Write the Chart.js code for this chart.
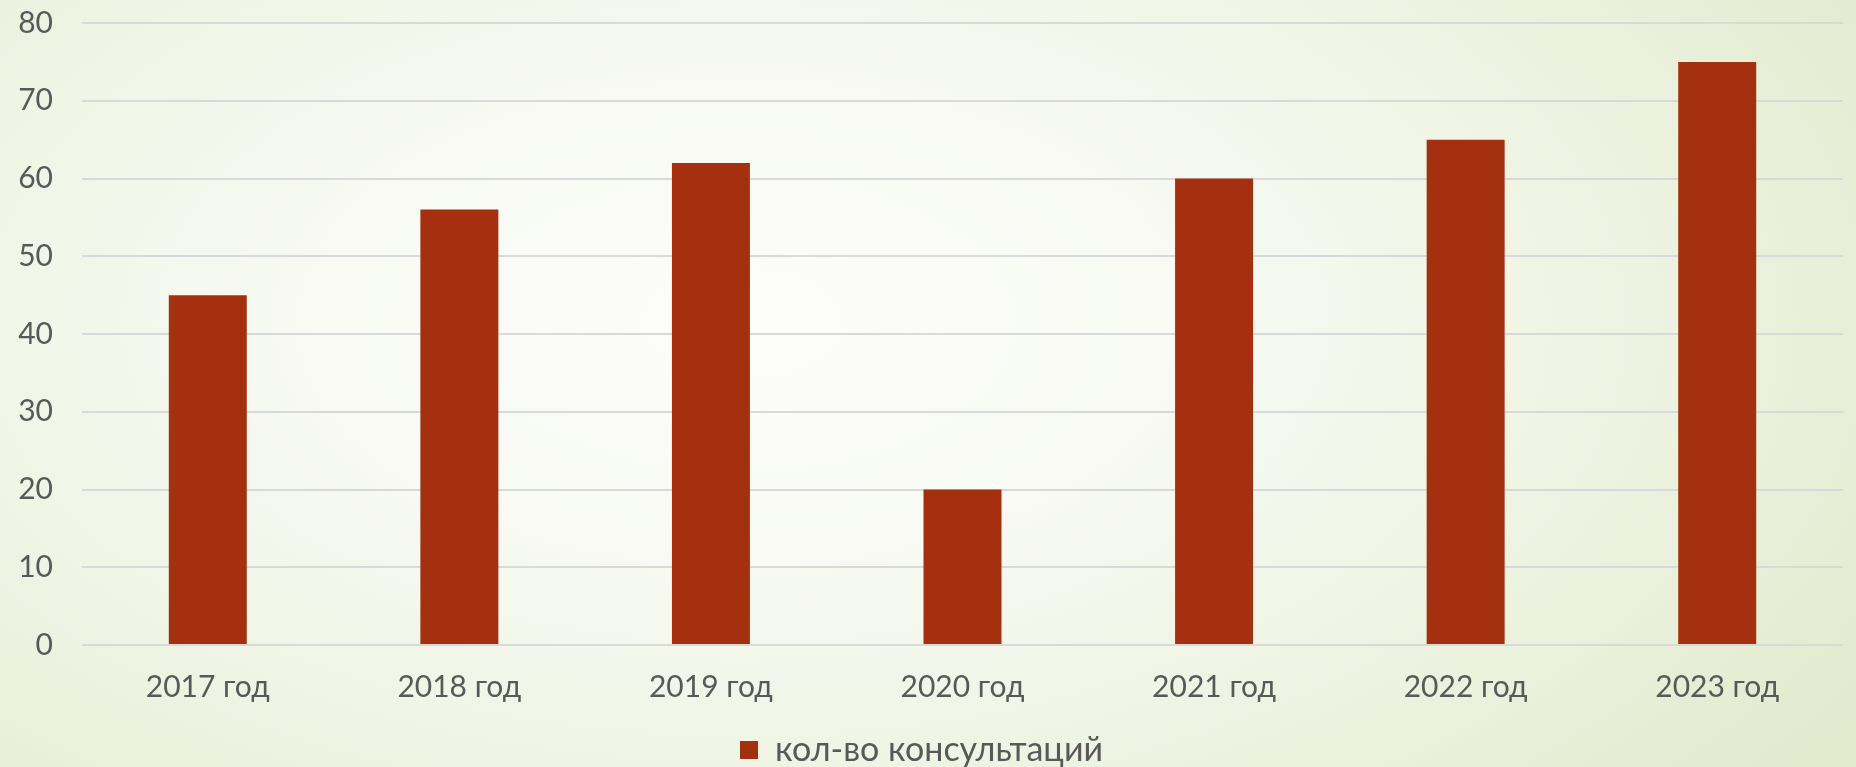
<!DOCTYPE html>
<html>
<head>
<meta charset="utf-8">
<script src="https://cdn.jsdelivr.net/npm/chart.js@4"></script>
<style>
  html, body { margin: 0; padding: 0; width: 1856px; height: 767px; overflow: hidden; }
  body {
    background:
      radial-gradient(ellipse 72% 95% at 40% 42%, #fdfdfb 0%, #f8faf3 32%, #edf3e1 68%, #e1eacd 100%);
  }
  #wrap { position: absolute; left: 0; top: 0; width: 1856px; height: 767px; }
</style>
</head>
<body>
<div id="wrap"><canvas id="c" width="1856" height="767"></canvas></div>
<script>
const categories = ["2017 год", "2018 год", "2019 год", "2020 год", "2021 год", "2022 год", "2023 год"];
const seriesName = "кол-во консультаций";
const consultations = [45, 56, 62, 20, 60, 65, 75];
const yTicks = [0, 10, 20, 30, 40, 50, 60, 70, 80];

const FONT = "Lato, 'Open Sans', sans-serif";

new Chart(document.getElementById('c'), {
  type: 'bar',
  data: {
    labels: categories,
    datasets: [{
      label: seriesName,
      data: consultations,
      backgroundColor: '#A5300F',
      borderWidth: 0,
      barPercentage: 0.31,
      categoryPercentage: 1.0
    }]
  },
  options: {
    responsive: false,
    devicePixelRatio: 1,
    animation: false,
    layout: { padding: { top: 23, right: 13, left: 0, bottom: -10 } },
    plugins: {
      tooltip: { enabled: false },
      legend: {
        display: true,
        position: 'bottom',
        labels: {
          boxWidth: 18,
          boxHeight: 18,
          padding: 3,
          color: '#595959',
          font: { family: FONT, size: 34 }
        }
      }
    },
    scales: {
      x: {
        grid: { display: false, drawTicks: false },
        border: { display: false },
        ticks: { color: '#595959', font: { family: FONT, size: 30 }, padding: 24, maxRotation: 0 },
        afterFit: (s) => { s.height = 85; }
      },
      y: {
        min: yTicks[0],
        max: yTicks[yTicks.length - 1],
        afterBuildTicks: (s) => { s.ticks = yTicks.map(v => ({ value: v })); },
        grid: { color: '#D9D9D9', lineWidth: 2, drawTicks: false },
        border: { display: false },
        ticks: { color: '#595959', font: { family: FONT, size: 30 }, padding: 29 },
        afterFit: (s) => { s.width = 82; s.paddingTop = 0; s.paddingBottom = 0; }
      }
    }
  }
});
</script>
</body>
</html>
